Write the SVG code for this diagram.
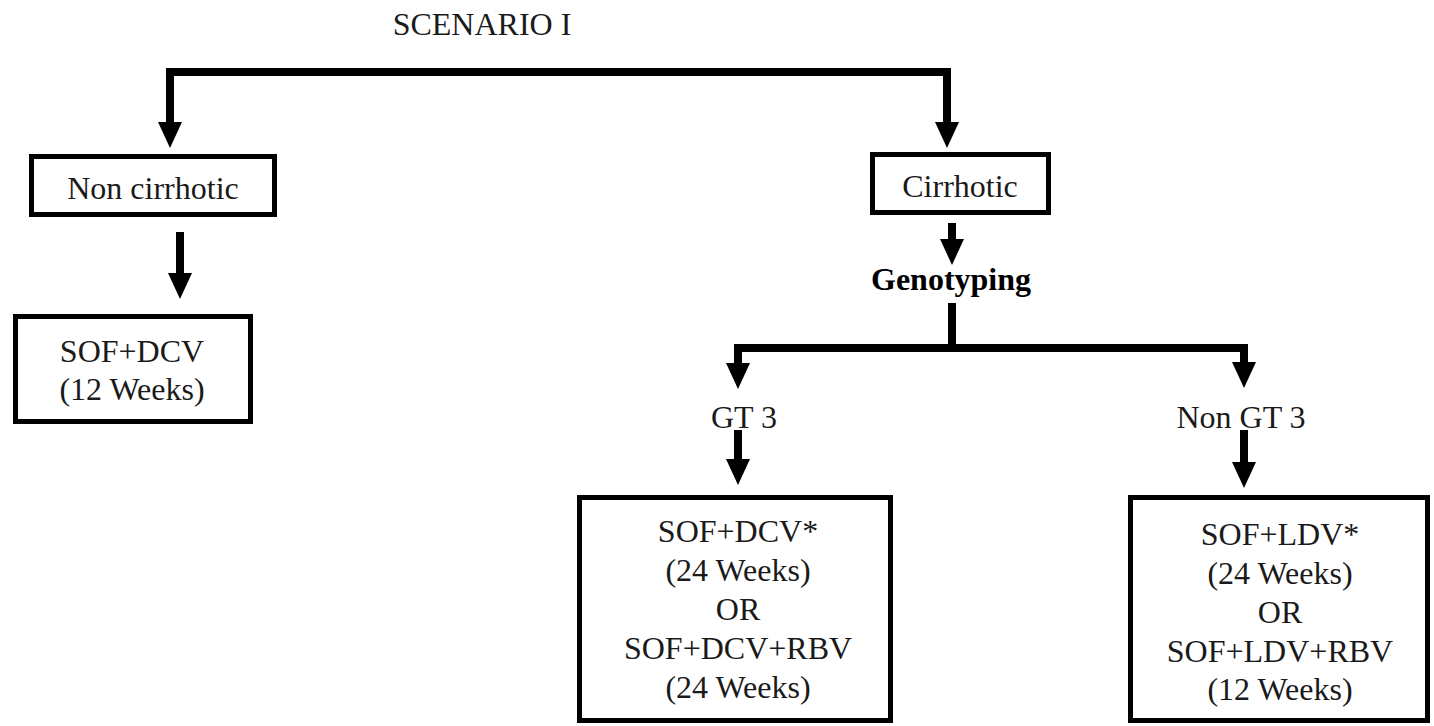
<svg xmlns="http://www.w3.org/2000/svg" width="1434" height="726" viewBox="0 0 1434 726">
<style>
.t{font-family:"Liberation Serif","Times New Roman",serif;font-size:32px;fill:#1a1a1a;text-anchor:middle}
.b{font-weight:bold;fill:#000}
.box{fill:#fff;stroke:#000;stroke-width:5}
.con{fill:none;stroke:#000;stroke-width:8;stroke-linejoin:miter}
</style>
<defs>
<marker id="ah" viewBox="0 0 26 24" refX="0" refY="12" markerWidth="26" markerHeight="24" markerUnits="userSpaceOnUse" orient="auto-start-reverse">
<path d="M0,0 L26,12 L0,24 Z" fill="#000"/>
</marker>
</defs>
<rect width="1434" height="726" fill="#fff"/>
<text id="title" class="t" x="482" y="35">SCENARIO I</text>
<g id="connectors">
<path class="con" d="M947,122 V72 H170 V122" marker-start="url(#ah)" marker-end="url(#ah)"/>
<path class="con" d="M180,232 V273" marker-end="url(#ah)"/>
<path class="con" d="M952,223 V239" marker-end="url(#ah)"/>
<path class="con" d="M952,303 V348"/>
<path class="con" d="M738,363 V348 H1244 V362" marker-start="url(#ah)" marker-end="url(#ah)"/>
<path class="con" d="M738,430 V459" marker-end="url(#ah)"/>
<path class="con" d="M1244,430 V462" marker-end="url(#ah)"/>
</g>
<g id="noncirrhotic">
<rect class="box" x="31.5" y="156.5" width="243" height="58"/>
<text class="t" x="153" y="199">Non cirrhotic</text>
</g>
<g id="cirrhotic">
<rect class="box" x="872.5" y="154.5" width="176" height="58"/>
<text class="t" x="960" y="197">Cirrhotic</text>
</g>
<g id="sofdcv12">
<rect class="box" x="15.5" y="316.5" width="235" height="105"/>
<text class="t" x="132" y="362">SOF+DCV</text>
<text class="t" x="132" y="400">(12 Weeks)</text>
</g>
<g id="genotyping">
<text class="t b" x="951" y="290">Genotyping</text>
</g>
<g id="gt3">
<text class="t" x="744" y="428">GT 3</text>
</g>
<g id="nongt3">
<text class="t" x="1241" y="428">Non GT 3</text>
</g>
<g id="gt3box">
<rect class="box" x="579.5" y="497.5" width="311" height="223"/>
<text class="t" x="738" y="542">SOF+DCV*</text>
<text class="t" x="738" y="581">(24 Weeks)</text>
<text class="t" x="738" y="620">OR</text>
<text class="t" x="738" y="659">SOF+DCV+RBV</text>
<text class="t" x="738" y="698">(24 Weeks)</text>
</g>
<g id="nongt3box">
<rect class="box" x="1130.5" y="497.5" width="297" height="223"/>
<text class="t" x="1280" y="545">SOF+LDV*</text>
<text class="t" x="1280" y="584">(24 Weeks)</text>
<text class="t" x="1280" y="623">OR</text>
<text class="t" x="1280" y="662">SOF+LDV+RBV</text>
<text class="t" x="1280" y="700">(12 Weeks)</text>
</g>
</svg>
